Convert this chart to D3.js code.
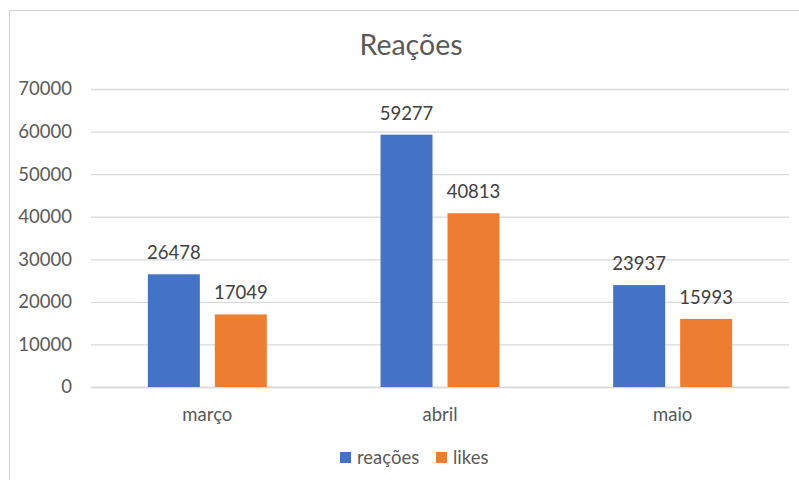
<!DOCTYPE html>
<html>
<head>
<meta charset="utf-8">
<script src="https://cdn.jsdelivr.net/npm/d3@7"></script>
<style>
  body { margin: 0; background: #fff; }
  svg { display: block; font-family: Lato, "Open Sans", sans-serif; }
</style>
</head>
<body>
<svg width="799" height="480"></svg>
<script>
var months = ["março", "abril", "maio"];
var series = ["reações", "likes"];
var reacoes = [26478, 59277, 23937];
var likes = [17049, 40813, 15993];
var yTicks = [0, 10000, 20000, 30000, 40000, 50000, 60000, 70000];
var colors = ["#4472C4", "#ED7D31"];

var rows = months.map(function(m, i) {
    return { month: m, values: [reacoes[i], likes[i]] };
});

var svg = d3.select("svg");

// chart border (left + top visible)
svg.append("rect")
    .attr("x", 9.5).attr("y", 10.5)
    .attr("width", 800).attr("height", 480)
    .attr("fill", "none").attr("stroke", "#D0D0D0");

var x = d3.scaleBand().domain(months).range([91, 789]);
var xs = d3.scaleBand().domain(series).range([0, x.bandwidth()])
    .paddingInner(0.224).paddingOuter(0.849);
var y = d3.scaleLinear().domain([0, 70000]).range([387, 89]);

// title
svg.append("text")
    .attr("x", 411).attr("y", 55)
    .attr("text-anchor", "middle")
    .attr("font-size", 28.5).attr("fill", "#595959")
    .text("Reações");

// gridlines
var yaxis = d3.axisLeft(y).tickValues(yTicks).tickSize(-(789 - 91)).tickPadding(19).tickFormat(d3.format("d"));
var gy = svg.append("g").attr("transform", "translate(91,0)").call(yaxis);
gy.select(".domain").remove();
gy.selectAll(".tick line").attr("stroke", "#D9D9D9").attr("stroke-width", 1.3);
gy.selectAll(".tick text").attr("font-size", 18.5).attr("fill", "#595959").attr("font-family", "Lato, sans-serif");

// x axis
var xaxis = d3.axisBottom(x).tickSize(0).tickPadding(21);
var gx = svg.append("g").attr("transform", "translate(0,387)").call(xaxis);
gx.select(".domain").attr("stroke", "#D9D9D9").attr("stroke-width", 1.3);
gx.selectAll(".tick text").attr("font-size", 18.5).attr("fill", "#595959").attr("font-family", "Lato, sans-serif");

// bars
var groups = svg.append("g").selectAll("g").data(rows).enter().append("g")
    .attr("transform", function(d) { return "translate(" + x(d.month) + ",0)"; });

groups.selectAll("rect").data(function(d) { return d.values; }).enter().append("rect")
    .attr("x", function(d, i) { return xs(series[i]); })
    .attr("y", function(d) { return y(d); })
    .attr("width", xs.bandwidth())
    .attr("height", function(d) { return y(0) - y(d); })
    .attr("fill", function(d, i) { return colors[i]; });

// data labels
groups.selectAll("text").data(function(d) { return d.values; }).enter().append("text")
    .attr("x", function(d, i) { return xs(series[i]) + xs.bandwidth() / 2; })
    .attr("y", function(d) { return y(d) - 15; })
    .attr("text-anchor", "middle")
    .attr("font-size", 18.5).attr("fill", "#404040")
    .text(function(d) { return d; });

// legend
var legendX = [340, 436];
var legend = svg.append("g").selectAll("g").data(series).enter().append("g")
    .attr("transform", function(d, i) { return "translate(" + legendX[i] + ",452)"; });
legend.append("rect").attr("width", 11).attr("height", 11)
    .attr("fill", function(d, i) { return colors[i]; });
legend.append("text").attr("x", 17).attr("y", 11.5)
    .attr("font-size", 18.5).attr("fill", "#595959")
    .text(function(d) { return d; });
</script>
</body>
</html>
